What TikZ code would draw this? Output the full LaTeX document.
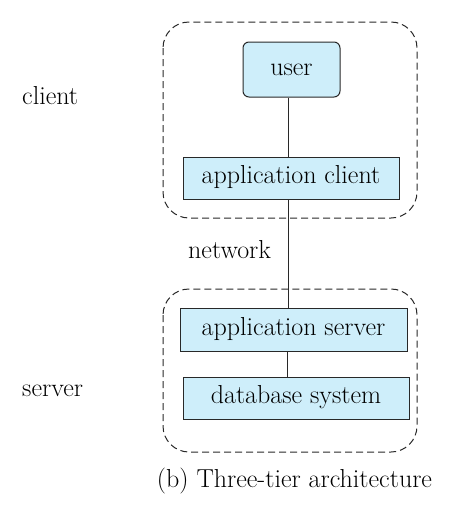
\documentclass[tikz,border=0pt]{standalone}
\definecolor{boxfill}{RGB}{206,238,250}
\definecolor{edge}{RGB}{40,40,40}
\begin{document}
\begin{tikzpicture}[x=1pt,y=-1pt,
  tier/.style={draw=edge, fill=boxfill, line width=1pt, inner sep=0pt,
    font=\fontsize{26}{30}\selectfont, text height=17pt, text depth=6pt},
  group/.style={draw=edge, dash pattern=on 7pt off 4pt, rounded corners=26pt, line width=1pt},
  lbl/.style={font=\fontsize{26}{30}\selectfont, inner sep=0pt},
  link/.style={draw=edge, line width=1pt}]
\useasboundingbox (0,0) rectangle (475,517);
% groups
\draw[group] (163,22) rectangle (417,218);
\draw[group] (163,289) rectangle (417,452);
% boxes
\node[tier, rounded corners=6pt, minimum width=97pt, minimum height=55pt] (user) at (291.5,69.5) {user};
\node[tier, minimum width=216pt, minimum height=42pt] (appclient) at (291,178) {application client};
\node[tier, minimum width=227pt, minimum height=43pt] (appserver) at (293.5,329.5) {application server};
\node[tier, minimum width=226pt, minimum height=42pt] (db) at (296,398) {database system};
\coordinate (spine) at (288,0);
\coordinate (spine2) at (287,0);
% connectors
\draw[link] (user.south -| spine) -- (appclient.north -| spine);
\draw[link] (appclient.south -| spine) -- (appserver.north -| spine);
\draw[link] (appserver.south -| spine2) -- (db.north -| spine2);
% labels
\node[lbl, anchor=base west] (clientlbl) at (22,104) {client};
\node[lbl, anchor=base west] (serverlbl) at (22,396) {server};
\node[lbl, anchor=base west] (netlbl) at (188,258) {network};
\node[lbl, anchor=base] (caption) at (294.5,487) {(b) Three-tier architecture};
\end{tikzpicture}
\end{document}
